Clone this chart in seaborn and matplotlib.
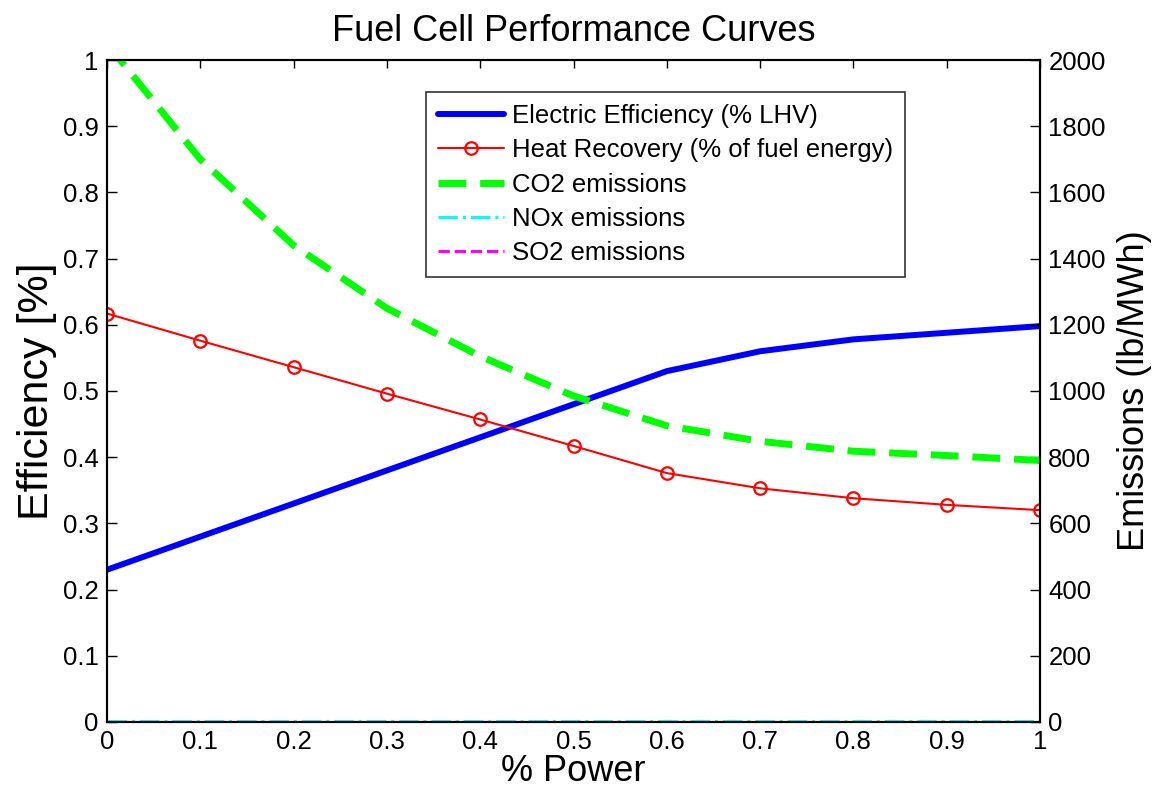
import numpy as np
import pandas as pd
import matplotlib
matplotlib.use("Agg")
import matplotlib.pyplot as plt
import seaborn as sns

# Values
power = [0.0, 0.1, 0.2, 0.3, 0.4, 0.5, 0.6, 0.7, 0.8, 0.9, 1.0]
elec_eff = [0.23, 0.28, 0.33, 0.38, 0.43, 0.48, 0.53, 0.56, 0.578, 0.588, 0.598]
heat_rec = [0.617, 0.576, 0.536, 0.496, 0.457, 0.417, 0.376, 0.353, 0.338, 0.328, 0.32]
co2 = [2050, 1700, 1440, 1250, 1105, 985, 895, 848, 818, 805, 790]
nox = [4, 4, 4, 4, 4, 4, 4, 4, 4, 4, 4]
so2 = [0.5, 0.5, 0.5, 0.5, 0.5, 0.5, 0.5, 0.5, 0.5, 0.5, 0.5]
tick_lbls = ["0", "0.1", "0.2", "0.3", "0.4", "0.5", "0.6", "0.7", "0.8", "0.9", "1"]

df = pd.DataFrame({"power": power, "elec": elec_eff, "heat": heat_rec,
                   "co2": co2, "nox": nox, "so2": so2})

sns.set_style("white")
plt.rcParams['font.family'] = ['Liberation Sans', 'DejaVu Sans']
plt.rcParams.update({"text.color": "black", "axes.labelcolor": "black",
                     "xtick.color": "black", "ytick.color": "black"})

fig = plt.figure(figsize=(11.52, 7.96), dpi=100)
ax = fig.add_axes([0.0929, 0.093, 0.8099, 0.8316])
ax2 = ax.twinx()

sns.lineplot(data=df, x="power", y="elec", ax=ax, color="#0000ff", lw=4.3,
             label="Electric Efficiency (% LHV)", legend=False)
sns.lineplot(data=df, x="power", y="heat", ax=ax, color="#ff0000", lw=1.5,
             marker="o", markersize=9, markerfacecolor="none",
             markeredgecolor="#ff0000", markeredgewidth=1.6,
             label="Heat Recovery (% of fuel energy)", legend=False)
l_co2 = sns.lineplot(data=df, x="power", y="co2", ax=ax2, color="#00ff00", lw=5,
                     label="CO2 emissions", legend=False).lines[-1]
l_co2.set_dashes((4, 2))
sns.lineplot(data=df, x="power", y="nox", ax=ax2, color="#00ffff", lw=2.2,
             linestyle="-.", label="NOx emissions", legend=False)
sns.lineplot(data=df, x="power", y="so2", ax=ax2, color="#ff00ff", lw=2.2,
             linestyle="--", label="SO2 emissions", legend=False)

ax.set_xlim(0, 1)
ax.set_ylim(0, 1)
ax2.set_ylim(0, 2000)
ax.set_xticks(np.arange(0, 1.01, 0.1))
ax.set_xticklabels(tick_lbls)
ax.set_yticks(np.arange(0, 1.01, 0.1))
ax.set_yticklabels(tick_lbls)
ax2.set_yticks(np.arange(0, 2001, 200))

for a in (ax, ax2):
    for s in a.spines.values():
        s.set_color("black")
        s.set_linewidth(1.5)
ax.tick_params(axis="x", direction="in", length=6, width=1, labelsize=18.5, top=True, pad=6)
ax.tick_params(axis="y", direction="in", length=7, width=1, labelsize=18.5, left=True, pad=6)
ax2.tick_params(axis="y", direction="in", length=7, width=1, labelsize=18.5, right=True, pad=6)

ax.set_xlabel("% Power", fontsize=26, labelpad=0)
ax.set_ylabel("Efficiency [%]", fontsize=31, labelpad=4)
ax2.set_ylabel("Emissions (lb/MWh)", fontsize=26, labelpad=8)
ax.set_title("Fuel Cell Performance Curves", fontsize=26, pad=14)

h1, lb1 = ax.get_legend_handles_labels()
h2, lb2 = ax2.get_legend_handles_labels()
leg = ax2.legend(h1 + h2, lb1 + lb2, loc="upper left", bbox_to_anchor=(0.342, 0.951),
                 fontsize=18.5, frameon=True, fancybox=False, edgecolor="black",
                 handlelength=2.6, labelspacing=0.4, borderpad=0.45, handletextpad=0.3,
                 borderaxespad=0)
leg.get_frame().set_linewidth(1.2)

fig.savefig("out.png", dpi=100)
